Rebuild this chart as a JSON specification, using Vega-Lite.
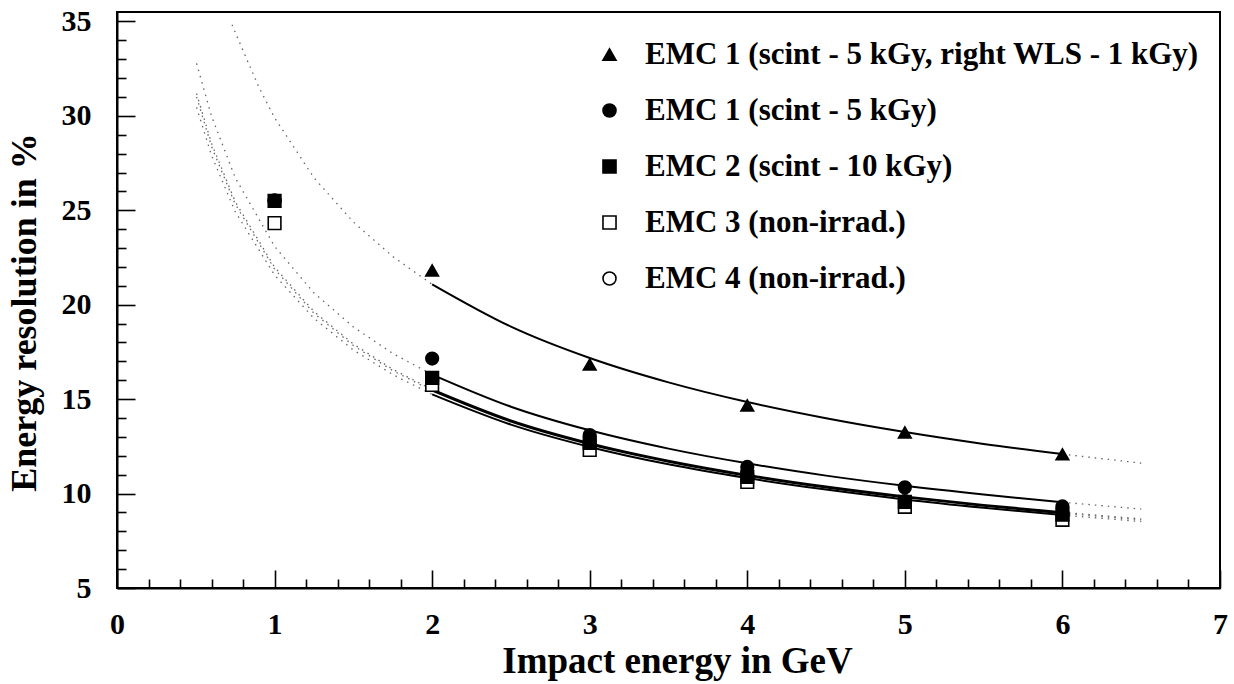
{
  "$schema": "https://vega.github.io/schema/vega-lite/v6.json",
  "width": 1103,
  "height": 576,
  "autosize": {"type": "none"},
  "padding": {"left": 117, "top": 12, "right": 14, "bottom": 96},
  "background": "white",
  "config": {
    "view": {"stroke": "black", "strokeWidth": 2},
    "font": "Liberation Serif",
    "axis": {
      "domainColor": "black",
      "domainWidth": 2,
      "tickColor": "black",
      "tickWidth": 1.6,
      "grid": false,
      "labelFont": "Liberation Serif",
      "labelFontWeight": "bold",
      "labelFontSize": 30,
      "labelColor": "black",
      "titleFont": "Liberation Serif",
      "titleFontWeight": "bold",
      "titleFontSize": 36,
      "titleColor": "black"
    },
    "legend": {
      "orient": "none",
      "legendX": 477,
      "legendY": 27,
      "title": null,
      "labelFont": "Liberation Serif",
      "labelFontWeight": "bold",
      "labelFontSize": 31,
      "labelColor": "black",
      "labelLimit": 0,
      "labelOffset": 20,
      "rowPadding": 24,
      "symbolSize": 170,
      "symbolStrokeColor": "black",
      "symbolStrokeWidth": 1.6,
      "padding": 0
    }
  },
  "datasets": {
    "points": [
      {"series": "EMC 4 (non-irrad.)", "E": 1, "res": 25.5},
      {"series": "EMC 4 (non-irrad.)", "E": 2, "res": 16.0},
      {"series": "EMC 4 (non-irrad.)", "E": 3, "res": 12.75},
      {"series": "EMC 4 (non-irrad.)", "E": 4, "res": 10.95},
      {"series": "EMC 4 (non-irrad.)", "E": 5, "res": 9.6},
      {"series": "EMC 4 (non-irrad.)", "E": 6, "res": 8.95},
      {"series": "EMC 3 (non-irrad.)", "E": 1, "res": 24.32},
      {"series": "EMC 3 (non-irrad.)", "E": 2, "res": 15.75},
      {"series": "EMC 3 (non-irrad.)", "E": 3, "res": 12.31},
      {"series": "EMC 3 (non-irrad.)", "E": 4, "res": 10.62},
      {"series": "EMC 3 (non-irrad.)", "E": 5, "res": 9.3},
      {"series": "EMC 3 (non-irrad.)", "E": 6, "res": 8.61},
      {"series": "EMC 2 (scint - 10 kGy)", "E": 1, "res": 25.5},
      {"series": "EMC 2 (scint - 10 kGy)", "E": 2, "res": 16.12},
      {"series": "EMC 2 (scint - 10 kGy)", "E": 3, "res": 12.68},
      {"series": "EMC 2 (scint - 10 kGy)", "E": 4, "res": 10.88},
      {"series": "EMC 2 (scint - 10 kGy)", "E": 5, "res": 9.56},
      {"series": "EMC 2 (scint - 10 kGy)", "E": 6, "res": 8.88},
      {"series": "EMC 1 (scint - 5 kGy)", "E": 1, "res": 25.52},
      {"series": "EMC 1 (scint - 5 kGy)", "E": 2, "res": 17.15},
      {"series": "EMC 1 (scint - 5 kGy)", "E": 3, "res": 13.1},
      {"series": "EMC 1 (scint - 5 kGy)", "E": 4, "res": 11.41},
      {"series": "EMC 1 (scint - 5 kGy)", "E": 5, "res": 10.33},
      {"series": "EMC 1 (scint - 5 kGy)", "E": 6, "res": 9.32},
      {"series": "EMC 1 (scint - 5 kGy, right WLS - 1 kGy)", "E": 2, "res": 21.82},
      {"series": "EMC 1 (scint - 5 kGy, right WLS - 1 kGy)", "E": 3, "res": 16.83},
      {"series": "EMC 1 (scint - 5 kGy, right WLS - 1 kGy)", "E": 4, "res": 14.67},
      {"series": "EMC 1 (scint - 5 kGy, right WLS - 1 kGy)", "E": 5, "res": 13.24},
      {"series": "EMC 1 (scint - 5 kGy, right WLS - 1 kGy)", "E": 6, "res": 12.08}
    ],
    "fits": [
      {"fit": "T", "part": "L", "E": 0.73, "res": 34.83},
      {"fit": "T", "part": "L", "E": 0.8, "res": 33.45},
      {"fit": "T", "part": "L", "E": 0.9, "res": 31.53},
      {"fit": "T", "part": "L", "E": 1, "res": 29.9},
      {"fit": "T", "part": "L", "E": 1.25, "res": 26.72},
      {"fit": "T", "part": "L", "E": 1.5, "res": 24.38},
      {"fit": "T", "part": "L", "E": 1.75, "res": 22.55},
      {"fit": "T", "part": "L", "E": 2, "res": 21.08},
      {"fit": "T", "part": "S", "E": 2, "res": 21.08},
      {"fit": "T", "part": "S", "E": 2.5, "res": 18.84},
      {"fit": "T", "part": "S", "E": 3, "res": 17.18},
      {"fit": "T", "part": "S", "E": 3.5, "res": 15.89},
      {"fit": "T", "part": "S", "E": 4, "res": 14.85},
      {"fit": "T", "part": "S", "E": 4.5, "res": 13.99},
      {"fit": "T", "part": "S", "E": 5, "res": 13.26},
      {"fit": "T", "part": "S", "E": 5.5, "res": 12.63},
      {"fit": "T", "part": "S", "E": 6, "res": 12.09},
      {"fit": "T", "part": "R", "E": 6, "res": 12.09},
      {"fit": "T", "part": "R", "E": 6.5, "res": 11.61},

      {"fit": "C1", "part": "L", "E": 0.505, "res": 32.78},
      {"fit": "C1", "part": "L", "E": 0.6, "res": 29.98},
      {"fit": "C1", "part": "L", "E": 0.75, "res": 26.73},
      {"fit": "C1", "part": "L", "E": 1, "res": 23.09},
      {"fit": "C1", "part": "L", "E": 1.25, "res": 20.62},
      {"fit": "C1", "part": "L", "E": 1.5, "res": 18.82},
      {"fit": "C1", "part": "L", "E": 1.75, "res": 17.42},
      {"fit": "C1", "part": "L", "E": 2, "res": 16.3},
      {"fit": "C1", "part": "S", "E": 2, "res": 16.3},
      {"fit": "C1", "part": "S", "E": 2.5, "res": 14.6},
      {"fit": "C1", "part": "S", "E": 3, "res": 13.35},
      {"fit": "C1", "part": "S", "E": 3.5, "res": 12.38},
      {"fit": "C1", "part": "S", "E": 4, "res": 11.6},
      {"fit": "C1", "part": "S", "E": 4.5, "res": 10.95},
      {"fit": "C1", "part": "S", "E": 5, "res": 10.41},
      {"fit": "C1", "part": "S", "E": 5.5, "res": 9.95},
      {"fit": "C1", "part": "S", "E": 6, "res": 9.54},
      {"fit": "C1", "part": "R", "E": 6, "res": 9.54},
      {"fit": "C1", "part": "R", "E": 6.5, "res": 9.18},

      {"fit": "C2", "part": "L", "E": 0.505, "res": 31.18},
      {"fit": "C2", "part": "L", "E": 0.6, "res": 28.54},
      {"fit": "C2", "part": "L", "E": 0.75, "res": 25.46},
      {"fit": "C2", "part": "L", "E": 1, "res": 21.99},
      {"fit": "C2", "part": "L", "E": 1.25, "res": 19.64},
      {"fit": "C2", "part": "L", "E": 1.5, "res": 17.92},
      {"fit": "C2", "part": "L", "E": 1.75, "res": 16.58},
      {"fit": "C2", "part": "L", "E": 2, "res": 15.51},
      {"fit": "C2", "part": "S", "E": 2, "res": 15.51},
      {"fit": "C2", "part": "S", "E": 2.5, "res": 13.87},
      {"fit": "C2", "part": "S", "E": 3, "res": 12.67},
      {"fit": "C2", "part": "S", "E": 3.5, "res": 11.74},
      {"fit": "C2", "part": "S", "E": 4, "res": 10.99},
      {"fit": "C2", "part": "S", "E": 4.5, "res": 10.37},
      {"fit": "C2", "part": "S", "E": 5, "res": 9.85},
      {"fit": "C2", "part": "S", "E": 5.5, "res": 9.4},
      {"fit": "C2", "part": "S", "E": 6, "res": 9.01},
      {"fit": "C2", "part": "R", "E": 6, "res": 9.01},
      {"fit": "C2", "part": "R", "E": 6.5, "res": 8.66},

      {"fit": "C4", "part": "L", "E": 0.505, "res": 31.0},
      {"fit": "C4", "part": "L", "E": 0.6, "res": 28.38},
      {"fit": "C4", "part": "L", "E": 0.75, "res": 25.33},
      {"fit": "C4", "part": "L", "E": 1, "res": 21.89},
      {"fit": "C4", "part": "L", "E": 1.25, "res": 19.55},
      {"fit": "C4", "part": "L", "E": 1.5, "res": 17.84},
      {"fit": "C4", "part": "L", "E": 1.75, "res": 16.51},
      {"fit": "C4", "part": "L", "E": 2, "res": 15.45},
      {"fit": "C4", "part": "S", "E": 2, "res": 15.45},
      {"fit": "C4", "part": "S", "E": 2.5, "res": 13.81},
      {"fit": "C4", "part": "S", "E": 3, "res": 12.61},
      {"fit": "C4", "part": "S", "E": 3.5, "res": 11.69},
      {"fit": "C4", "part": "S", "E": 4, "res": 10.94},
      {"fit": "C4", "part": "S", "E": 4.5, "res": 10.32},
      {"fit": "C4", "part": "S", "E": 5, "res": 9.8},
      {"fit": "C4", "part": "S", "E": 5.5, "res": 9.35},
      {"fit": "C4", "part": "S", "E": 6, "res": 8.96},
      {"fit": "C4", "part": "R", "E": 6, "res": 8.96},
      {"fit": "C4", "part": "R", "E": 6.5, "res": 8.61},

      {"fit": "C3", "part": "L", "E": 0.505, "res": 30.45},
      {"fit": "C3", "part": "L", "E": 0.6, "res": 27.9},
      {"fit": "C3", "part": "L", "E": 0.75, "res": 24.93},
      {"fit": "C3", "part": "L", "E": 1, "res": 21.57},
      {"fit": "C3", "part": "L", "E": 1.25, "res": 19.28},
      {"fit": "C3", "part": "L", "E": 1.5, "res": 17.6},
      {"fit": "C3", "part": "L", "E": 1.75, "res": 16.3},
      {"fit": "C3", "part": "L", "E": 2, "res": 15.25},
      {"fit": "C3", "part": "S", "E": 2, "res": 15.25},
      {"fit": "C3", "part": "S", "E": 2.5, "res": 13.65},
      {"fit": "C3", "part": "S", "E": 3, "res": 12.47},
      {"fit": "C3", "part": "S", "E": 3.5, "res": 11.55},
      {"fit": "C3", "part": "S", "E": 4, "res": 10.82},
      {"fit": "C3", "part": "S", "E": 4.5, "res": 10.21},
      {"fit": "C3", "part": "S", "E": 5, "res": 9.69},
      {"fit": "C3", "part": "S", "E": 5.5, "res": 9.25},
      {"fit": "C3", "part": "S", "E": 6, "res": 8.86},
      {"fit": "C3", "part": "R", "E": 6, "res": 8.86},
      {"fit": "C3", "part": "R", "E": 6.5, "res": 8.52}
    ]
  },
  "encoding": {
    "x": {
      "field": "E",
      "type": "quantitative",
      "scale": {"domain": [0, 7], "nice": false, "zero": false},
      "axis": {
        "title": "Impact energy in GeV",
        "values": [0, 0.2, 0.4, 0.6, 0.8, 1, 1.2, 1.4, 1.6, 1.8, 2, 2.2, 2.4, 2.6, 2.8, 3, 3.2, 3.4, 3.6, 3.8, 4, 4.2, 4.4, 4.6, 4.8, 5, 5.2, 5.4, 5.6, 5.8, 6, 6.2, 6.4, 6.6, 6.8, 7],
        "tickSize": {"condition": {"test": "abs(datum.value - round(datum.value)) < 0.001", "value": -18}, "value": -9},
        "labelExpr": "abs(datum.value - round(datum.value)) < 0.001 ? format(datum.value, 'd') : ''",
        "labelPadding": 63,
        "labelBaseline": "alphabetic",
        "labelFlush": false,
        "labelOverlap": false,
        "titleFontSize": 37,
        "titleX": 560,
        "titleY": 84,
        "titleBaseline": "alphabetic",
        "titleAnchor": "middle"
      }
    },
    "y": {
      "field": "res",
      "type": "quantitative",
      "scale": {"domain": [5, 35.5], "nice": false, "zero": false},
      "axis": {
        "title": "Energy resolution in %",
        "values": [5, 6, 7, 8, 9, 10, 11, 12, 13, 14, 15, 16, 17, 18, 19, 20, 21, 22, 23, 24, 25, 26, 27, 28, 29, 30, 31, 32, 33, 34, 35],
        "tickSize": {"condition": {"test": "datum.value % 5 === 0", "value": -18}, "value": -9},
        "labelExpr": "datum.value % 5 === 0 ? format(datum.value, 'd') : ''",
        "labelPadding": 44,
        "labelBaseline": "middle",
        "labelFlush": false,
        "labelOverlap": false,
        "titleX": -82,
        "titleY": 300,
        "titleBaseline": "alphabetic",
        "titleAnchor": "middle"
      }
    }
  },
  "layer": [
    {
      "data": {"name": "fits"},
      "transform": [{"filter": "datum.part !== 'S'"}, {"calculate": "datum.fit + datum.part", "as": "seg"}],
      "mark": {"type": "line", "color": "#666666", "strokeWidth": 1.3, "strokeDash": [1.5, 5], "clip": true},
      "encoding": {"detail": {"field": "seg"}, "order": {"field": "E", "type": "quantitative"}}
    },
    {
      "data": {"name": "fits"},
      "transform": [{"filter": "datum.part === 'S'"}],
      "mark": {"type": "line", "color": "black", "strokeWidth": 2, "interpolate": "monotone"},
      "encoding": {"detail": {"field": "fit"}, "order": {"field": "E", "type": "quantitative"}}
    },
    {
      "data": {"name": "points"},
      "mark": {"type": "point", "filled": true, "strokeWidth": 1.6, "size": 160, "opacity": 1},
      "encoding": {
        "shape": {
          "field": "series",
          "type": "nominal",
          "scale": {
            "domain": ["EMC 1 (scint - 5 kGy, right WLS - 1 kGy)", "EMC 1 (scint - 5 kGy)", "EMC 2 (scint - 10 kGy)", "EMC 3 (non-irrad.)", "EMC 4 (non-irrad.)"],
            "range": ["triangle-up", "circle", "square", "square", "circle"]
          },
          "legend": {"title": null}
        },
        "fill": {
          "field": "series",
          "type": "nominal",
          "scale": {
            "domain": ["EMC 1 (scint - 5 kGy, right WLS - 1 kGy)", "EMC 1 (scint - 5 kGy)", "EMC 2 (scint - 10 kGy)", "EMC 3 (non-irrad.)", "EMC 4 (non-irrad.)"],
            "range": ["black", "black", "black", "white", "white"]
          },
          "legend": {"title": null}
        },
        "stroke": {
          "field": "series",
          "type": "nominal",
          "scale": {
            "domain": ["EMC 1 (scint - 5 kGy, right WLS - 1 kGy)", "EMC 1 (scint - 5 kGy)", "EMC 2 (scint - 10 kGy)", "EMC 3 (non-irrad.)", "EMC 4 (non-irrad.)"],
            "range": ["black", "black", "black", "black", "black"]
          },
          "legend": {"title": null}
        }
      }
    }
  ]
}
